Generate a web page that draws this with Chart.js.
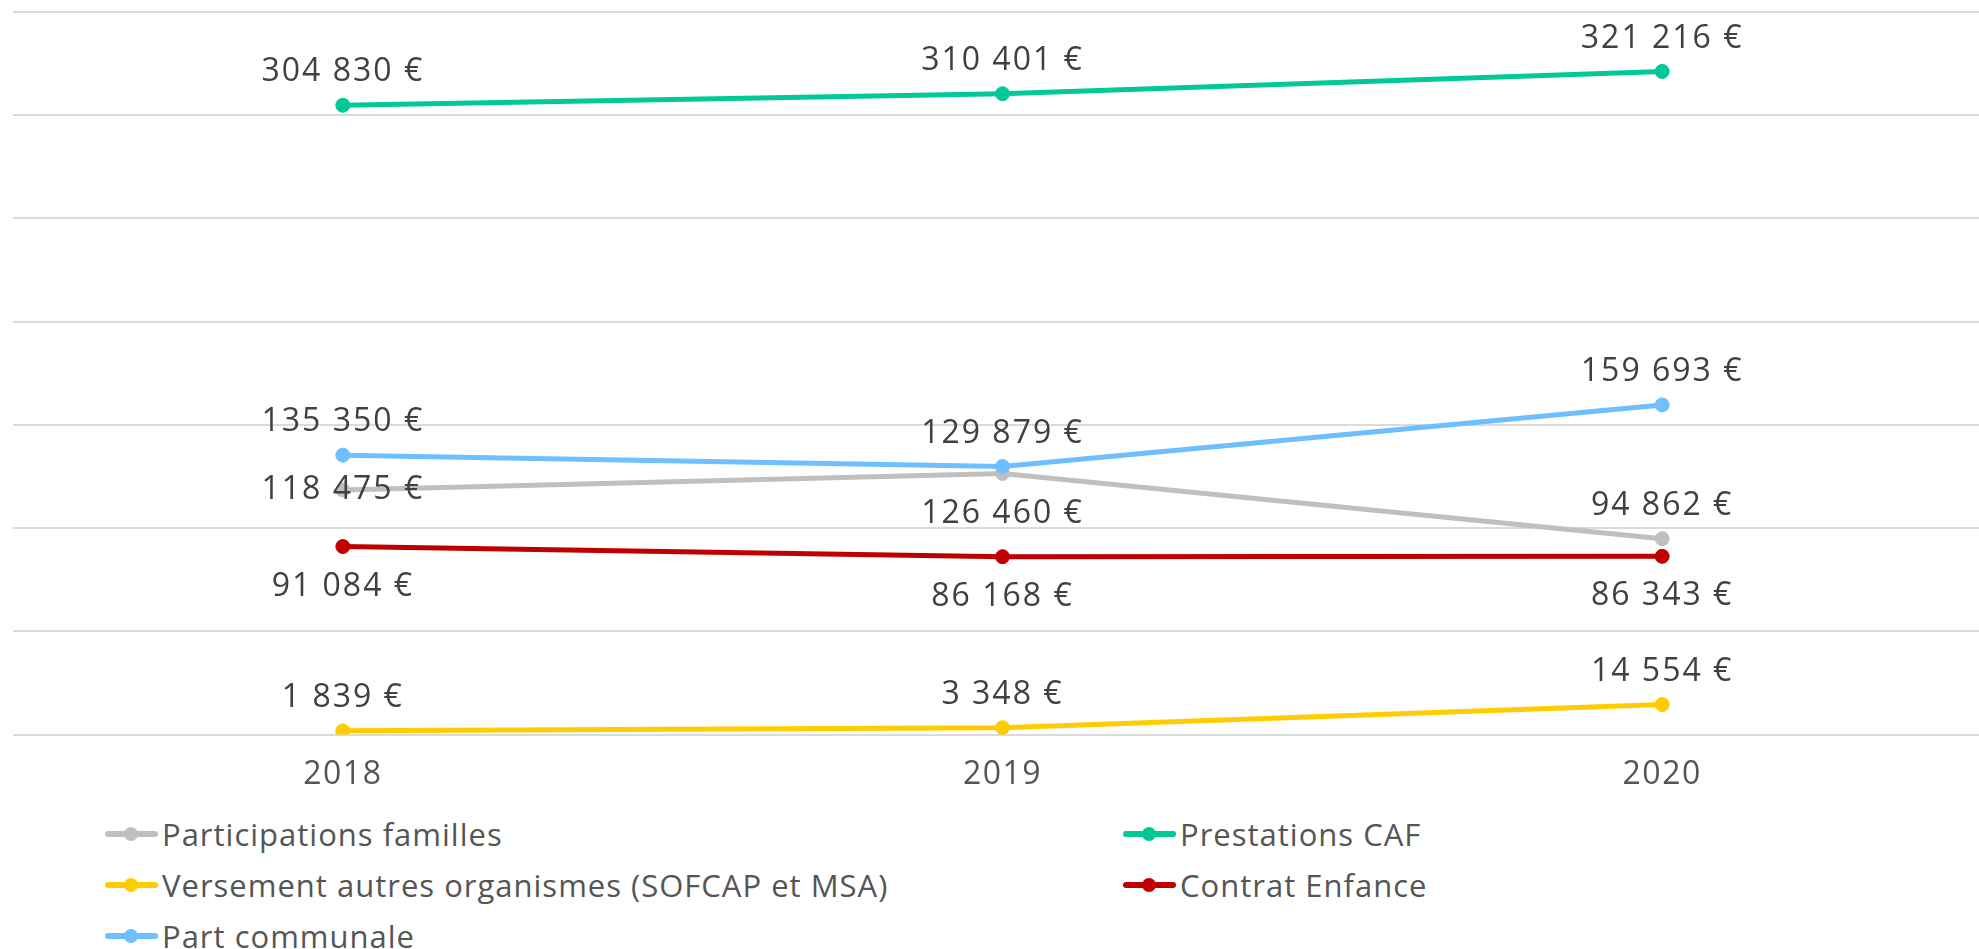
<!DOCTYPE html>
<html>
<head>
<meta charset="utf-8">
<script src="https://cdn.jsdelivr.net/npm/chart.js@4/dist/chart.umd.min.js"></script>
<style>
  html, body { margin: 0; padding: 0; background: #fff; overflow: hidden; }
  #wrap { position: relative; width: 2000px; height: 807px; }
  #legend {
    position: absolute; left: 105px; top: 808px;
    display: grid; grid-template-columns: 1018px 600px; grid-auto-rows: 51px;
    font-family: "Open Sans", sans-serif; font-size: 31px; color: #555; letter-spacing: 1px;
  }
  .item { display: flex; align-items: center; white-space: nowrap; }
  .mark { position: relative; width: 53px; height: 6px; margin-right: 4px; border-radius: 3px; }
  .mark i { position: absolute; left: 19px; top: -4px; width: 14px; height: 14px; border-radius: 50%; }
</style>
</head>
<body>
<div id="wrap"><canvas id="myChart"></canvas></div>
<div id="legend"></div>
<script>
const years = ['2018', '2019', '2020'];
const participationsFamilles = [118475, 126460, 94862];
const prestationsCAF = [304830, 310401, 321216];
const versementAutres = [1839, 3348, 14554];
const contratEnfance = [91084, 86168, 86343];
const partCommunale = [135350, 129879, 159693];
const yMax = 350000;
const yStep = 50000;

const fmt = v => v.toString().replace(/\B(?=(\d{3})+(?!\d))/g, ' ') + ' €';

const series = [
  { label: 'Participations familles', data: participationsFamilles, color: '#bfbfbf', place: ['center', 'below', 'above'] },
  { label: 'Prestations CAF', data: prestationsCAF, color: '#00c896', place: ['above', 'above', 'above'] },
  { label: 'Versement autres organismes (SOFCAP et MSA)', data: versementAutres, color: '#ffcc00', place: ['above', 'above', 'above'] },
  { label: 'Contrat Enfance', data: contratEnfance, color: '#c00000', place: ['below', 'below', 'below'] },
  { label: 'Part communale', data: partCommunale, color: '#6dbfff', place: ['above', 'above', 'above'] },
];

// a bit of letter spacing like the original font
const spacing = {
  id: 'spacing',
  beforeDraw(chart) { chart.ctx.letterSpacing = '1.5px'; }
};

// draws the value above / below / on each point
const valueLabels = {
  id: 'valueLabels',
  afterDatasetsDraw(chart) {
    const ctx = chart.ctx;
    ctx.save();
    ctx.font = '32px "Open Sans"';
    ctx.letterSpacing = '2px';
    ctx.fillStyle = '#404040';
    ctx.textAlign = 'center';
    ctx.textBaseline = 'middle';
    chart.data.datasets.forEach((ds, i) => {
      chart.getDatasetMeta(i).data.forEach((pt, j) => {
        const p = ds.place[j];
        const dy = p === 'above' ? -33 : p === 'below' ? 40 : 0;
        ctx.fillText(fmt(ds.data[j]), pt.x, pt.y + dy);
      });
    });
    ctx.restore();
  }
};

const chart = new Chart(document.getElementById('myChart').getContext('2d'), {
  type: 'line',
  data: {
    labels: years,
    datasets: series.map((s, i) => ({
      label: s.label,
      data: s.data,
      place: s.place,
      borderColor: s.color,
      backgroundColor: s.color,
      borderWidth: 5,
      pointRadius: 7,
      pointBorderWidth: 1,
      tension: 0,
      order: series.length - i,
    })),
  },
  options: {
    responsive: true,
    maintainAspectRatio: false,
    animation: false,
    layout: { padding: { top: 12, left: 13, right: 7, bottom: 0 } },
    plugins: { legend: { display: false }, tooltip: { enabled: false } },
    scales: {
      x: {
        offset: true,
        grid: { display: false },
        border: { display: false },
        ticks: { color: '#555', font: { family: 'Open Sans', size: 32 }, padding: 13 },
      },
      y: {
        min: 0,
        max: yMax,
        ticks: { display: false, stepSize: yStep },
        border: { display: false },
        grid: { color: '#dadada', lineWidth: 2, drawTicks: false },
      },
    },
  },
  plugins: [spacing, valueLabels],
});

// legend in two columns
const legend = document.getElementById('legend');
series.forEach(s => {
  const item = document.createElement('div');
  item.className = 'item';
  item.innerHTML = '<span class="mark" style="background:' + s.color + '"><i style="background:' + s.color + '"></i></span>' + s.label;
  legend.appendChild(item);
});
</script>
</body>
</html>
